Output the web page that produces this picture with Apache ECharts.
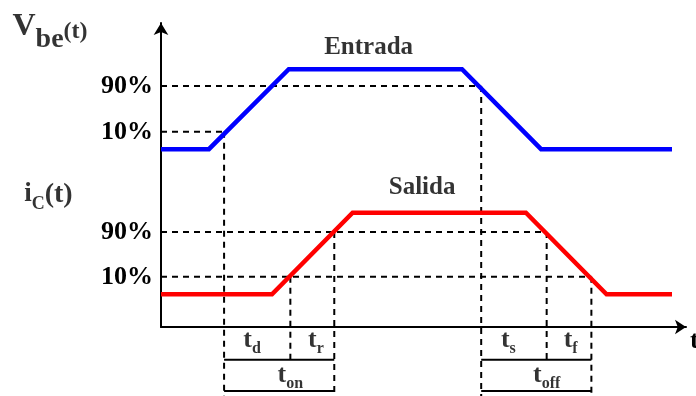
<!DOCTYPE html>
<html>
<head>
<meta charset="utf-8">
<script src="https://cdn.jsdelivr.net/npm/echarts@6/dist/echarts.min.js"></script>
<style>
  html, body { margin: 0; padding: 0; background: #fff; }
  #chart { width: 696px; height: 396px; }
</style>
</head>
<body>
<div id="chart"></div>
<script>
// Switching waveforms of a transistor: base-emitter voltage (Entrada) and collector current (Salida)
const timeMax = 65.75;
const levelMax = 61.2;
const levelMin = -14;

// Entrada: Vbe(t) corner points
const entradaTime = [0, 6, 16, 37.7, 47.6, 64];
const entradaLevel = [35.8, 35.8, 51.9, 51.9, 35.8, 35.8];

// Salida: ic(t) corner points
const salidaTime = [0, 13.9, 24, 45.7, 55.8, 64];
const salidaLevel = [6.6, 6.6, 23, 23, 6.6, 6.6];

// 10 % / 90 % reference levels of each waveform
const thresholdNames = ['10%', '90%'];
const entradaThresholds = [39.3, 48.5];
const salidaThresholds = [10.1, 19.1];

// Instants where the waveforms cross the reference levels
const crossTimes = [7.9, 16.2, 21.7, 40.1, 48.3, 53.9];

// Interval names (subscripts of t) and where they are written
const intervalNames = ['d', 'r', 'on', 's', 'f', 'off'];
const intervalLabelTime = [11.4, 19.4, 16.2, 43.5, 51.3, 48.3];
const intervalRow = [0, 0, 1, 0, 0, 1];
const labelRowLevel = [-2.7, -9.8];
const dimensionRowLevel = [-6.6, -12.9];

const serif = 'Liberation Serif';

// Which reference level starts each vertical guide, and where it stops
const guideLevels = [
  entradaThresholds[0], salidaThresholds[0], salidaThresholds[1],
  entradaThresholds[1], salidaThresholds[1], salidaThresholds[0]
];
const guideEnds = [
  levelMin, dimensionRowLevel[0], levelMin,
  levelMin, dimensionRowLevel[0], levelMin
];
// Horizontal guides run from the axis to a crossing instant
const hGuides = [
  [entradaThresholds[0], crossTimes[0]],
  [entradaThresholds[1], crossTimes[3]],
  [salidaThresholds[1], crossTimes[4]],
  [salidaThresholds[0], crossTimes[5]]
];

const dashStyle = { color: '#000', width: 2, type: [6, 5] };

function seg(name, pts, style) {
  return {
    type: 'line', name, data: pts, symbol: 'none', clip: false,
    silent: true, lineStyle: style, z: 1
  };
}

const series = [];

hGuides.forEach((g, i) => {
  series.push(seg('hguide' + i, [[0, g[0]], [g[1], g[0]]], dashStyle));
});
crossTimes.forEach((t, i) => {
  series.push(seg('vguide' + i, [[t, guideLevels[i]], [t, guideEnds[i]]], dashStyle));
});

// Dimension bars for t_on and t_off
const spans = [[crossTimes[0], crossTimes[2]], [crossTimes[3], crossTimes[5]]];
spans.forEach((s, i) => {
  dimensionRowLevel.forEach((lv, j) => {
    series.push(seg('dim' + i + j, [[s[0], lv], [s[1], lv]], { color: '#000', width: 2, type: 'solid' }));
  });
});

series.push({
  type: 'line', name: 'Entrada', symbol: 'none', silent: true, z: 3,
  data: entradaTime.map((t, i) => [t, entradaLevel[i]]),
  lineStyle: { color: '#0000ff', width: 4.5, join: 'miter' }
});
series.push({
  type: 'line', name: 'Salida', symbol: 'none', silent: true, z: 3,
  data: salidaTime.map((t, i) => [t, salidaLevel[i]]),
  lineStyle: { color: '#ff0000', width: 4.5, join: 'miter' }
});

const boldText = { fontFamily: serif, fontWeight: 'bold', color: '#000' };

// Text written at data positions
const textItems = [
  { value: [26.0, 56.2], label: { formatter: 'Entrada', fontSize: 25, ...boldText } },
  { value: [32.7, 28.0], label: { formatter: 'Salida', fontSize: 25, ...boldText } },
  { value: [-13.9, 60.4], label: { formatter: '{v|V}{b|be}{p|(t)}' } },
  { value: [-14.1, 26.6], label: { formatter: '{i|i}{c|C}{q|(t)}' } }
];
intervalNames.forEach((n, i) => {
  textItems.push({
    value: [intervalLabelTime[i], labelRowLevel[intervalRow[i]]],
    label: { formatter: '{t|t}{s|' + n + '}' }
  });
});

series.push({
  type: 'scatter', name: 'text', symbol: 'circle', symbolSize: 0, clip: false,
  silent: true, z: 5,
  data: textItems,
  label: {
    show: true, position: 'inside', ...boldText,
    rich: {
      v: { ...boldText, fontSize: 32, lineHeight: 32, verticalAlign: 'top' },
      b: { ...boldText, fontSize: 28, lineHeight: 28, verticalAlign: 'top', padding: [15, 0, 0, 0] },
      p: { ...boldText, fontSize: 24, lineHeight: 24, verticalAlign: 'top', padding: [9, 0, 0, 0] },
      i: { ...boldText, fontSize: 27, lineHeight: 27, verticalAlign: 'top' },
      c: { ...boldText, fontSize: 18, lineHeight: 18, verticalAlign: 'top', padding: [14, 0, 0, 0] },
      q: { ...boldText, fontSize: 28, lineHeight: 28, verticalAlign: 'top' },
      t: { ...boldText, fontSize: 26, lineHeight: 26, verticalAlign: 'top' },
      s: { ...boldText, fontSize: 16, lineHeight: 16, verticalAlign: 'top', padding: [13, 0, 0, 0] }
    }
  }
});

const chart = echarts.init(document.getElementById('chart'));
chart.setOption({
  animation: false,
  backgroundColor: '#fff',
  grid: { left: 161, right: 10, top: 23, bottom: 69, containLabel: false, outerBoundsMode: 'none' },
  xAxis: {
    type: 'value', min: 0, max: timeMax,
    name: 't', nameLocation: 'end', nameGap: 4,
    nameTextStyle: { ...boldText, fontSize: 26, verticalAlign: 'top', align: 'left', padding: [1, 0, 0, 0] },
    axisLine: { onZero: false, symbol: ['none', 'arrow'], symbolSize: [11, 11], lineStyle: { color: '#000', width: 2 } },
    axisTick: { show: false }, axisLabel: { show: false }, splitLine: { show: false }
  },
  yAxis: {
    type: 'value', min: 0, max: levelMax,
    axisLine: { onZero: false, symbol: ['none', 'arrow'], symbolSize: [11, 12], lineStyle: { color: '#000', width: 2 } },
    axisTick: { show: false }, splitLine: { show: false },
    axisLabel: {
      show: true, margin: 8, ...boldText, fontSize: 26,
      customValues: [salidaThresholds[0], salidaThresholds[1], entradaThresholds[0], entradaThresholds[1]],
      formatter: function (v) {
        const lo = v === salidaThresholds[0] || v === entradaThresholds[0];
        return lo ? thresholdNames[0] : thresholdNames[1];
      }
    }
  },
  series
});
</script>
</body>
</html>
